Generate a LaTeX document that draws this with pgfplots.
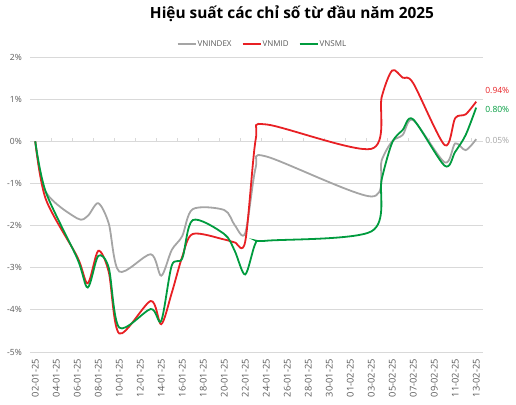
\documentclass[border=0pt]{standalone}
\usepackage{fontspec}
\setmainfont{Open Sans}
\usepackage{pgfplots}
\pgfplotsset{compat=1.18}
\definecolor{grayc}{RGB}{165,165,165}
\definecolor{redc}{RGB}{232,32,36}
\definecolor{greenc}{RGB}{0,155,62}
\definecolor{gridc}{RGB}{217,217,217}
\definecolor{tickc}{RGB}{89,89,89}
\begin{document}
\begin{tikzpicture}
\path[use as bounding box] (0,0) rectangle (516pt,404pt);
\node[font=\bfseries\fontsize{15.4}{18}\selectfont] at (292pt,390pt) {Hiệu suất các chỉ số từ đầu năm 2025};
\begin{axis}[
  at={(30pt,52pt)}, anchor=south west,
  scale only axis, width=453pt, height=295pt,
  xmin=-0.5, xmax=42.65, ymin=-5, ymax=2,
  clip=false,
  axis line style={draw=none},
  major tick length=0pt,
  ytick={-5,...,2},
  yticklabels={-5\%,-4\%,-3\%,-2\%,-1\%,0\%,1\%,2\%},
  ymajorgrids, grid style={gridc, line width=0.9pt},
  xtick={0,2,...,42},
  xticklabels={02-01-25,04-01-25,06-01-25,08-01-25,10-01-25,12-01-25,14-01-25,16-01-25,18-01-25,20-01-25,22-01-25,24-01-25,26-01-25,28-01-25,30-01-25,01-02-25,03-02-25,05-02-25,07-02-25,09-02-25,11-02-25,13-02-25},
  xticklabel style={rotate=90, anchor=east, font=\fontsize{9.3}{10}\selectfont, text=tickc, inner sep=0pt},
  yticklabel style={anchor=east, font=\fontsize{8.5}{10}\selectfont, text=tickc, inner sep=0pt},
  xticklabel shift=7pt,
  yticklabel shift=8pt,
  legend style={at={(0.512,1.044)}, anchor=center, draw=none, fill=none,
    font=\fontsize{8}{10}\selectfont, text=tickc, inner sep=0pt,
    nodes={inner sep=1pt},
    /tikz/every even column/.append style={column sep=9pt}},
  legend columns=3,
  legend image code/.code={\draw[#1, line width=2pt] (0pt,0pt) -- (18pt,0pt);},
  every axis plot/.append style={smooth, line width=1.8pt, mark=none},
]
\pgfplotsinvokeforeach{0,...,20}{
  \draw[gridc, line width=0.9pt] (axis cs:{1.55+2*#1},0) -- ++(0pt,3pt);
}
\addplot[grayc] coordinates {
(0,0) (1,-1.2) (4,-1.83) (5,-1.77) (6,-1.47) (7,-1.95) (8,-3.09)
(11,-2.68) (12,-3.19) (13,-2.58) (14,-2.25) (15,-1.61)
(18,-1.63) (19,-1.99) (20,-2.18) (21,-0.62) (22,-0.36)
(32,-1.31) (33,-0.45) (34,0.0) (35,0.15) (36,0.5)
(39,-0.5) (40,-0.05) (41,-0.21) (42,0.05)};
\addlegendentry{VNINDEX}
\addplot[redc] coordinates {
(0,0) (1,-1.37) (4,-2.74) (5,-3.37) (6,-2.6) (7,-3.1) (8,-4.56)
(11,-3.79) (12,-4.34) (13,-3.6) (14,-2.74) (15,-2.2)
(18,-2.33) (19,-2.4) (20,-2.38) (21,0.05) (22,0.4)
(32,-0.18) (33,1.05) (34,1.68) (35,1.51) (36,1.38)
(39,-0.09) (40,0.55) (41,0.64) (42,0.94)};
\addlegendentry{VNMID}
\addplot[greenc] coordinates {
(0,0) (1,-1.2) (4,-2.78) (5,-3.47) (6,-2.72) (7,-3.0) (8,-4.42)
(11,-3.98) (12,-4.26) (13,-2.95) (14,-2.78) (15,-1.87)
(18,-2.2) (19,-2.6) (20,-3.16) (21,-2.41) (22,-2.36)
(32,-2.14) (33,-0.9) (34,-0.03) (35,0.27) (36,0.52)
(39,-0.58) (40,-0.25) (41,0.15) (42,0.80)};
\addlegendentry{VNSML}
\node[anchor=west, inner sep=0pt, xshift=9pt, yshift=11pt, text=redc, font=\fontsize{8.5}{10}\selectfont] at (axis cs:42,0.94) {0.94\%};
\node[anchor=west, inner sep=0pt, xshift=9pt, yshift=-2.4pt, text=greenc, font=\fontsize{8.5}{10}\selectfont] at (axis cs:42,0.80) {0.80\%};
\node[anchor=west, inner sep=0pt, xshift=9pt, yshift=-1pt, text=grayc, font=\fontsize{8.5}{10}\selectfont] at (axis cs:42,0.05) {0.05\%};
\end{axis}
\end{tikzpicture}
\end{document}
